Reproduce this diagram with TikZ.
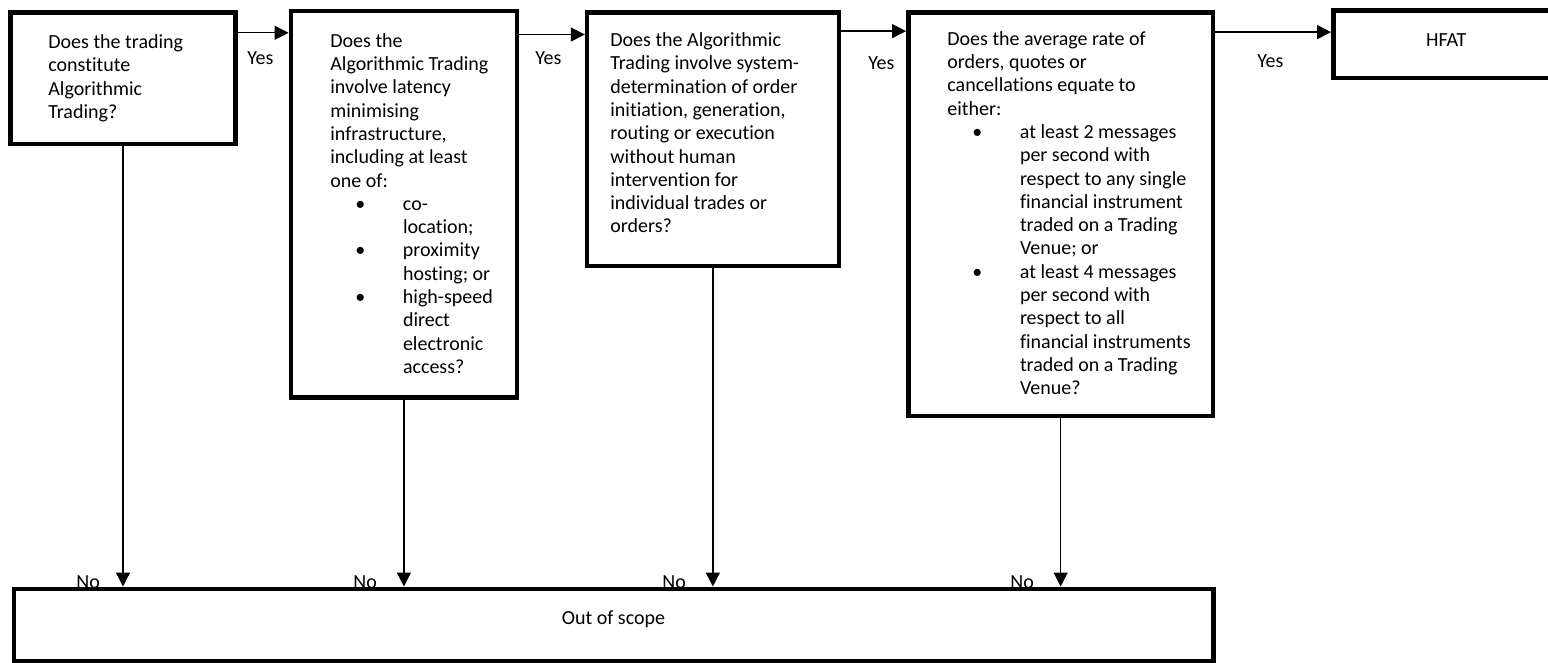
\documentclass[tikz,border=0pt]{standalone}
\usepackage{fontspec}
\setmainfont{Carlito}[Ligatures=NoCommon]
\usetikzlibrary{arrows.meta}
\begin{document}
\begin{tikzpicture}[x=0.5pt,y=-0.5pt,
  box/.style={draw=black,line width=2.2pt,fill=white,inner sep=0pt},
  txt/.style={inner sep=0pt,anchor=north west,align=left,font=\fontsize{10}{11.65}\selectfont},
  lbl/.style={inner sep=0pt,anchor=base west,font=\fontsize{10}{11.65}\selectfont},
  conn/.style={line width=0.65pt,-{Triangle[width=7pt,length=7pt]}}
]
\useasboundingbox (0,0) rectangle (1548,663);
% boxes
\node[box,minimum width=112.5pt,minimum height=65.75pt] (b1) at (123,78.25) {};
\node[box,minimum width=113.1pt,minimum height=193.1pt] (b2) at (403.9,204.4) {};
\node[box,minimum width=125.85pt,minimum height=126.65pt] (b3) at (712.85,139.15) {};
\node[box,minimum width=152.35pt,minimum height=201.65pt] (b4) at (1060.65,214.15) {};
\node[box,minimum width=113pt,minimum height=33.75pt,font=\fontsize{10}{11.65}\selectfont,text height=6.4pt,text depth=4pt] (hfat) at (1446.3,44.25) {HFAT};
\node[box,minimum width=599.8pt,minimum height=36.15pt,font=\fontsize{10}{11.65}\selectfont,text height=5pt,text depth=5pt] (out) at (613.5,624.85) {Out of scope};
% texts
\node[txt] (t1) at (48,31.8) {\strut Does the trading\\constitute\\Algorithmic\\Trading?};
\node[txt] (t2) at (330,30.5) {\strut Does the\\Algorithmic Trading\\involve latency\\minimising\\infrastructure,\\including at least\\one of:\\
\hspace*{12.5pt}\makebox[23.8pt][l]{\textbullet}co-\\
\hspace*{36.3pt}location;\\
\hspace*{12.5pt}\makebox[23.8pt][l]{\textbullet}proximity\\
\hspace*{36.3pt}hosting; or\\
\hspace*{12.5pt}\makebox[23.8pt][l]{\textbullet}high-speed\\
\hspace*{36.3pt}direct\\
\hspace*{36.3pt}electronic\\
\hspace*{36.3pt}access?};
\node[txt] (t3) at (610,29.8) {\strut Does the Algorithmic\\Trading involve system-\\determination of order\\initiation, generation,\\routing or execution\\without human\\intervention for\\individual trades or\\orders?};
\node[txt] (t4) at (947,28.5) {\strut Does the average rate of\\orders, quotes or\\cancellations equate to\\either:\\
\hspace*{12.5pt}\makebox[23.8pt][l]{\textbullet}at least 2 messages\\
\hspace*{36.3pt}per second with\\
\hspace*{36.3pt}respect to any single\\
\hspace*{36.3pt}financial instrument\\
\hspace*{36.3pt}traded on a Trading\\
\hspace*{36.3pt}Venue; or\\
\hspace*{12.5pt}\makebox[23.8pt][l]{\textbullet}at least 4 messages\\
\hspace*{36.3pt}per second with\\
\hspace*{36.3pt}respect to all\\
\hspace*{36.3pt}financial instruments\\
\hspace*{36.3pt}traded on a Trading\\
\hspace*{36.3pt}Venue?};
% yes connectors
\draw[conn] ([yshift=-11.25pt]b1.north east) -- ([yshift=-11.25pt]b1.north east -| b2.west);
\draw[conn] ([yshift=-12.7pt]b2.north east) -- ([yshift=-12.7pt]b2.north east -| b3.west);
\draw[conn] ([yshift=-10.4pt]b3.north east) -- ([yshift=-10.4pt]b3.north east -| b4.west);
\draw[conn] ([yshift=-10.9pt]b4.north east) -- ([yshift=-10.9pt]b4.north east -| hfat.west);
\node[lbl] (y1) at (247,65) {Yes};
\node[lbl] (y2) at (535,65) {Yes};
\node[lbl] (y3) at (868,70) {Yes};
\node[lbl] (y4) at (1257,68) {Yes};
% no connectors
\draw[conn] (b1.south) -- (b1.south |- out.north);
\draw[conn] (b2.south) -- (b2.south |- out.north);
\draw[conn] (b3.south) -- (b3.south |- out.north);
\draw[conn] (b4.south) -- (b4.south |- out.north);
\node[lbl] (n1) at (76,588) {No};
\node[lbl] (n2) at (353,588) {No};
\node[lbl] (n3) at (662,588) {No};
\node[lbl] (n4) at (1010,588) {No};
\end{tikzpicture}
\end{document}
